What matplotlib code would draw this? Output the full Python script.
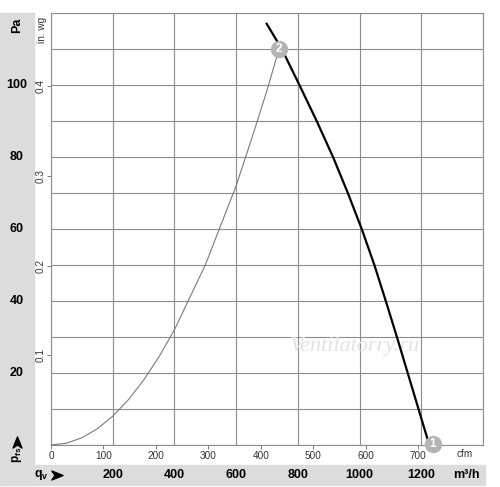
import numpy as np
import matplotlib.pyplot as plt
import matplotlib.transforms as mtransforms
from matplotlib.path import Path
from matplotlib.lines import Line2D

plt.rcParams['font.family'] = ['Liberation Sans', 'DejaVu Sans']

# 风机曲线 (q in m3/h, p in Pa)
fan_q = [699, 748, 805, 861, 914, 962, 1007, 1048, 1085, 1121, 1156, 1191, 1226]
fan_p = [117, 110, 100, 90, 80, 70, 60, 50, 40, 30, 20, 10, 0]
# 系统阻力曲线
sys_q = [0, 50, 100, 150, 200, 250, 300, 350, 400, 450, 500, 550, 600, 650, 700, 739]
sys_p = [0, 0.5, 2, 4.5, 8, 12.5, 18, 24.5, 32, 41, 50, 61, 72, 85, 98.5, 110]
# 工作点
pt_q = [1238, 739]
pt_p = [0.3, 110]
pt_lbl = ['1', '2']

pa_ticks = [20, 40, 60, 80, 100]
m3h_ticks = [200, 400, 600, 800, 1000, 1200]
inwg_ticks = [0.1, 0.2, 0.3, 0.4]
cfm_ticks = [0, 100, 200, 300, 400, 500, 600, 700]

M3H_PER_CFM = 1.699
PA_PER_INWG = 249.0

fig = plt.figure(figsize=(5, 4.87), dpi=100)
W, H = 500, 487

# 灰色条
fig.patches.append(plt.Rectangle((0, 2 / H), 34 / W, 1 - 15 / H, transform=fig.transFigure,
                                 color='#dcdcdc', zorder=-5))
fig.patches.append(plt.Rectangle((0, 2 / H), 485 / W, 20 / H, transform=fig.transFigure,
                                 color='#dcdcdc', zorder=-5))

ax = fig.add_axes([51 / W, 1 - 445 / H, 432 / W, 432 / H])
ax.set_xlim(0, 1400)
ax.set_ylim(0, 120)
ax.set_xticks(np.arange(0, 1401, 200))
ax.set_yticks(np.arange(0, 121, 10))
ax.tick_params(length=0, labelbottom=False, labelleft=False)
ax.grid(True, color='#8c8c8c', lw=0.8)
for s in ax.spines.values():
    s.set_color('#8c8c8c')
    s.set_linewidth(0.8)

ax.plot(sys_q, sys_p, color='#7a7a7a', lw=0.8, zorder=3)
ax.plot(fan_q, fan_p, color='black', lw=1.6, zorder=4, clip_on=False)
ax.plot(pt_q, pt_p, 'o', ms=12.5, color='#b4b4b4', mec='none', zorder=5, clip_on=False)
for q, p, t in zip(pt_q, pt_p, pt_lbl):
    ax.text(q, p, t, color='white', fontsize=8.5, fontweight='bold', ha='center',
            va='center', zorder=6)

# 水印
ax.text(985, 27.5, 'Ventilatorry.ru', fontsize=16, style='italic',
        family='Liberation Serif', color='#e2e2e2', ha='center', va='center', zorder=2)

# Pa 刻度 (左侧灰条)
tr_y = mtransforms.blended_transform_factory(fig.transFigure, ax.transData)
for v in pa_ticks:
    ax.text(17 / W, v, str(v), transform=tr_y, fontsize=9, fontweight='bold',
            ha='center', va='center')
fig.text(17 / W, 1 - 25 / H, 'Pa', rotation=90, fontsize=9, fontweight='bold',
         ha='center', va='center')
fig.text(17 / W, 1 - 455 / H, 'p$_{\\mathregular{fs}}$', rotation=90, fontsize=8.5,
         fontweight='bold', ha='center', va='center')

# 箭头形状
arrow_right = Path([(-1, -0.8), (1, 0), (-1, 0.8), (-0.45, 0), (-1, -0.8)],
                   [Path.MOVETO, Path.LINETO, Path.LINETO, Path.LINETO, Path.CLOSEPOLY])
arrow_up = Path([(-0.8, -1), (0, 1), (0.8, -1), (0, -0.45), (-0.8, -1)],
                [Path.MOVETO, Path.LINETO, Path.LINETO, Path.LINETO, Path.CLOSEPOLY])
fig.add_artist(Line2D([57 / W], [1 - 474.5 / H], marker=arrow_right, ms=8, color='black',
                      transform=fig.transFigure))
fig.add_artist(Line2D([17 / W], [1 - 442 / H], marker=arrow_up, ms=8, color='black',
                      transform=fig.transFigure))

# m3/h 刻度 (底部灰条)
tr_x = mtransforms.blended_transform_factory(ax.transData, fig.transFigure)
for v in m3h_ticks:
    ax.text(v, 1 - 474.5 / H, str(v), transform=tr_x, fontsize=9, fontweight='bold',
            ha='center', va='center')
fig.text(466 / W, 1 - 474.5 / H, 'm³/h', fontsize=9, fontweight='bold',
         ha='center', va='center')
fig.text(41 / W, 1 - 474.5 / H, 'q$_{\\mathregular{v}}$', fontsize=9, fontweight='bold',
         ha='center', va='center')

# in. wg 副轴
sy = ax.secondary_yaxis('left', functions=(lambda p: p / PA_PER_INWG,
                                           lambda w: w * PA_PER_INWG))
sy.set_yticks(inwg_ticks)
sy.set_yticklabels([str(v) for v in inwg_ticks], rotation=90, va='center')
sy.tick_params(length=3, width=0.6, color='#666666', labelsize=7.2, labelcolor='#333333', pad=1)
sy.spines['left'].set_visible(False)
fig.text(42 / W, 1 - 30 / H, 'in. wg', rotation=90, fontsize=7.2, color='#333333',
         ha='center', va='center')

# cfm 副轴
sx = ax.secondary_xaxis('bottom', functions=(lambda q: q / M3H_PER_CFM,
                                             lambda c: c * M3H_PER_CFM))
sx.set_xticks(cfm_ticks)
sx.set_xticklabels([str(v) for v in cfm_ticks])
sx.tick_params(length=3, width=0.6, color='#666666', labelsize=7.2, labelcolor='#333333', pad=1)
sx.spines['bottom'].set_visible(False)
fig.text(465 / W, 1 - 454 / H, 'cfm', fontsize=7.2, color='#333333', ha='center', va='center')

fig.savefig('out.png', dpi=100)
